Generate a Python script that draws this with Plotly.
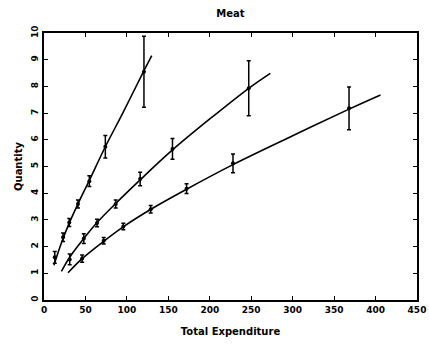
import plotly.graph_objects as go

# Observed points (expenditure, quantity, error half-width) for the three groups
a_x = [13, 23, 30.5, 41, 54.7, 74, 120.6]
a_y = [1.6, 2.35, 2.9, 3.6, 4.45, 5.74, 8.55]
a_err = [0.22, 0.16, 0.15, 0.15, 0.2, 0.42, 1.33]

b_x = [31, 48, 64, 86.5, 116, 155, 247]
b_y = [1.52, 2.3, 2.88, 3.6, 4.53, 5.66, 7.93]
b_err = [0.2, 0.18, 0.14, 0.15, 0.25, 0.39, 1.03]

c_x = [46, 72, 95.7, 128.7, 172, 228, 368]
c_y = [1.55, 2.22, 2.75, 3.4, 4.17, 5.12, 7.18]
c_err = [0.14, 0.12, 0.12, 0.14, 0.18, 0.35, 0.8]

# Fitted curves
fa_x = [12, 20, 30, 41, 55, 74, 95, 120, 130]
fa_y = [1.3, 2.05, 2.85, 3.6, 4.5, 5.74, 7.0, 8.55, 9.15]
fb_x = [21, 31, 48, 64, 86, 116, 155, 200, 247, 273]
fb_y = [1.07, 1.6, 2.3, 2.9, 3.6, 4.5, 5.62, 6.78, 7.93, 8.49]
fc_x = [29, 46, 72, 96, 129, 172, 228, 300, 368, 406]
fc_y = [1.02, 1.55, 2.2, 2.75, 3.4, 4.15, 5.07, 6.15, 7.15, 7.68]

fig = go.Figure()

for fx, fy in [(fa_x, fa_y), (fb_x, fb_y), (fc_x, fc_y)]:
    fig.add_trace(go.Scatter(x=fx, y=fy, mode="lines", line_shape="spline",
                             line=dict(color="black", width=1.6), showlegend=False,
                             hoverinfo="skip"))

for px, py, pe in [(a_x, a_y, a_err), (b_x, b_y, b_err), (c_x, c_y, c_err)]:
    fig.add_trace(go.Scatter(x=px, y=py, mode="markers",
                             marker=dict(color="black", size=4),
                             error_y=dict(type="data", array=pe, color="black",
                                          thickness=1.5, width=2),
                             showlegend=False))

font = dict(family="DejaVu Sans", size=9, color="black")
axis = dict(showline=True, linecolor="black", linewidth=2, mirror="ticks",
            ticks="inside", ticklen=4, tickcolor="black", tickwidth=1.2,
            showgrid=False, zeroline=False, tickfont=font, automargin=False)

fig.update_layout(
    width=429, height=344,
    margin=dict(l=44, r=12, t=33, b=44),
    paper_bgcolor="white", plot_bgcolor="white",
    title=dict(text="<b>Meat</b>", x=0.537, xanchor="center", y=0.962, yanchor="middle",
               font=dict(family="DejaVu Sans", size=10, color="black")),
    xaxis=dict(axis, range=[0, 450], dtick=50,
               title=dict(text="<b>Total Expenditure</b>", standoff=14,
                          font=dict(family="DejaVu Sans", size=10, color="black"))),
    yaxis=dict(axis, range=[0, 10], dtick=1, tickangle=-90,
               title=dict(text="<b>Quantity</b>", standoff=6,
                          font=dict(family="DejaVu Sans", size=10, color="black"))),
)
fig.update_xaxes(tickprefix="<b>", ticksuffix="</b>")
fig.update_yaxes(tickprefix="<b>", ticksuffix="</b>")

# drop the default 8px body margin so the figure fills the window
fig.write_html("out.html", config={"displayModeBar": False},
               post_script="document.body.style.margin='0';")
